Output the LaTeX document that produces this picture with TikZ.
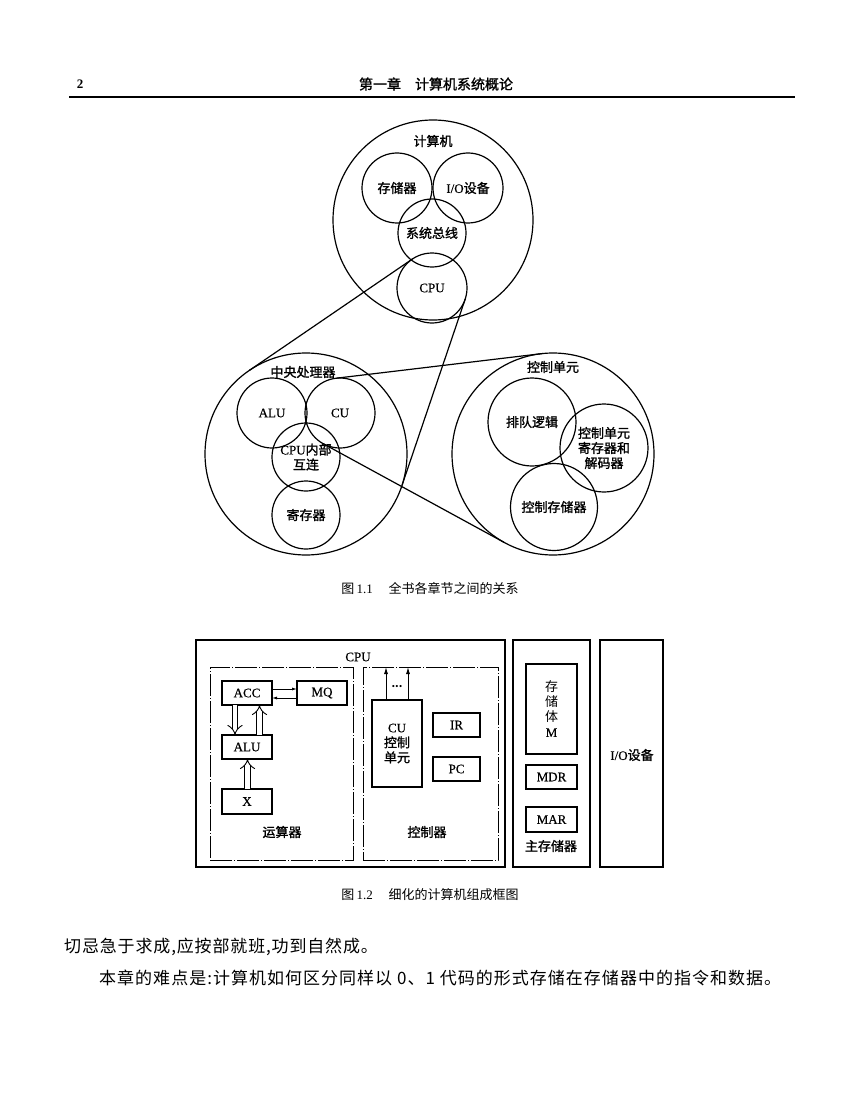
\documentclass[tikz,border=0pt]{standalone}
\usepackage{fontspec}
\setmainfont{Liberation Serif}
\newfontfamily\latb[FakeBold=0.4]{Liberation Serif}
\newfontfamily\cjk{Noto Sans CJK SC}
\newfontfamily\cjkb[FakeBold=1.4]{Noto Sans CJK SC}
\newfontfamily\cjkwide[LetterSpace=6]{Noto Sans CJK SC}
\newfontfamily\cjkmid[LetterSpace=5]{Noto Sans CJK SC}
\usetikzlibrary{arrows.meta,calc}
\newcommand\zh[1]{{\cjkb #1}}
\begin{document}
\begin{tikzpicture}[x=1pt,y=-1pt,
  circ/.style={draw,circle,inner sep=0pt,outer sep=0pt,line width=1.2pt,align=center,font=\fontsize{13}{15}\selectfont\latb},
  lab/.style={inner sep=0pt,font=\fontsize{13}{15}\selectfont\latb},
  box/.style={draw,line width=1.1pt,inner sep=0pt,outer sep=0pt,align=center,font=\fontsize{13}{15}\selectfont\latb},
  bigbox/.style={draw,line width=1.5pt,inner sep=0pt,outer sep=0pt},
  dbox/.style={draw,line width=0.9pt,inner sep=0pt,outer sep=0pt,dash pattern=on 22pt off 2pt on 1pt off 2pt},
  cone/.style={line width=1.2pt},
  thin arrow/.style={line width=0.8pt,-{Latex[length=5pt,width=3pt]}},
  hollow/.style={double distance=4.5pt,line width=0.9pt,-{Implies}},
  capt/.style={inner sep=0pt,font=\fontsize{13}{15}\selectfont},
  body/.style={inner sep=0pt,anchor=west,font=\fontsize{17}{20}\selectfont}]
\useasboundingbox[fill=white] (0,0) rectangle (845,1099);

% header
\node[inner sep=0pt,font=\fontsize{13}{15}\selectfont\bfseries] (pgno) at (80,84) {2};
\node[inner sep=0pt,font=\fontsize{14}{16}\selectfont] (hdr) at (436,84) {{\cjkb 第一章\hspace{1em}计算机系统概论}};
\coordinate (ruleL) at (69,97);
\coordinate (ruleR) at (795,97);
\draw[line width=1.3pt] (ruleL) -- (ruleR);

% Figure 1.1 top
\node[circ,minimum size=200pt] (comp) at (433,220) {};
\node[lab] (compl) at (433,141) {\zh{计算机}};
\node[circ,minimum size=70pt] (mem) at (397,188) {\zh{存储器}};
\node[circ,minimum size=70pt] (io) at (468,188) {I/O\zh{设备}};
\node[circ,minimum size=68pt] (bus) at (432,233) {\zh{系统总线}};
\node[circ,minimum size=70pt] (cpu) at (432,288) {CPU};

% CPU expanded
\node[circ,minimum size=202pt] (cpuc) at (306,454) {};
\node[lab] (cpucl) at (303,372) {\zh{中央处理器}};
\node[circ,minimum size=70pt] (alu) at (272,413) {ALU};
\node[circ,minimum size=70pt] (cu) at (340,413) {CU};
\node[circ,minimum size=68pt] (icn) at (306,457) {CPU\zh{内部}\\\zh{互连}};
\node[circ,minimum size=68pt] (reg) at (306,515) {\zh{寄存器}};

% CU expanded
\node[circ,minimum size=202pt] (cuc) at (553,454) {};
\node[lab] (cucl) at (553,367) {\zh{控制单元}};
\node[circ,minimum size=88pt] (seq) at (532,422) {\zh{排队逻辑}};
\node[circ,minimum size=88pt] (dec) at (604,448) {\zh{控制单元}\\\zh{寄存器和}\\\zh{解码器}};
\node[circ,minimum size=87pt] (cmem) at (554,507) {\zh{控制存储器}};

\draw[cone] (cpu.124.9) -- (cpuc.124.9);
\draw[cone] (cpu.-18.9) -- (cpuc.-18.9);
\draw[cone] (cu.96.8) -- (cuc.96.8);
\draw[cone] (cu.241.4) -- (cuc.241.4);

\node[capt] (cap1) at (430,588) {{\cjk 图}\,1.1\hspace{1.2em}{\cjk 全书各章节之间的关系}};

% Figure 1.2
\node[bigbox,minimum width=309pt,minimum height=227pt] (cpubox) at (350.5,753.5) {};
\node[lab] (cpul) at (358,657) {CPU};
\node[dbox,minimum width=143pt,minimum height=193pt] (arith) at (281.5,763.5) {};
\node[dbox,minimum width=135pt,minimum height=193pt] (ctl) at (430.5,763.5) {};
\node[box,minimum width=50pt,minimum height=24pt] (acc) at (247,693) {ACC};
\node[box,minimum width=50pt,minimum height=24pt] (mq) at (322,693) {MQ};
\node[box,minimum width=50pt,minimum height=24pt] (alub) at (247,747) {ALU};
\node[box,minimum width=50pt,minimum height=25pt] (xb) at (247,801.5) {X};
\node[lab] (arithl) at (282,832) {\zh{运算器}};
\node[box,minimum width=50pt,minimum height=87pt] (cub) at (397,743.5) {CU\\\zh{控制}\\\zh{单元}};
\node[box,minimum width=47pt,minimum height=24pt] (ir) at (456.5,725) {IR};
\node[box,minimum width=47pt,minimum height=24pt] (pc) at (456.5,769) {PC};
\node[lab] (ctll) at (427,832) {\zh{控制器}};
\node[inner sep=0pt,font=\fontsize{9}{10}\selectfont] (dots) at (397,687) {\textbullet\hspace{0.5pt}\textbullet\hspace{0.5pt}\textbullet};

\draw[thin arrow] ($(acc.east)+(0,-4)$) -- ($(mq.west)+(0,-4)$);
\draw[thin arrow] ($(mq.west)+(0,5)$) -- ($(acc.east)+(0,5)$);
\draw[hollow] ($(acc.south)+(-12,0)$) -- ($(alub.north)+(-12,0)$);
\draw[hollow] ($(alub.north)+(12.5,0)$) -- ($(acc.south)+(12.5,0)$);
\draw[hollow] ($(xb.north)+(0.5,0)$) -- ($(alub.south)+(0.5,0)$);

\coordinate (cuL) at ($(cub.north)+(-11,0)$);
\coordinate (cuR) at ($(cub.north)+(11,0)$);
\draw[line width=0.9pt,-{Latex[length=7pt,width=4pt]}] (cuL) -- (cuL |- ctl.north);
\draw[line width=0.9pt,-{Latex[length=7pt,width=4pt]}] (cuR) -- (cuR |- ctl.north);

\node[bigbox,minimum width=77pt,minimum height=227pt] (mm) at (551.5,753.5) {};
\node[box,minimum width=51pt,minimum height=90pt] (bank) at (551.5,709) {{\cjk 存}\\{\cjk 储}\\{\cjk 体}\\M};
\node[box,minimum width=51pt,minimum height=24pt] (mdr) at (551.5,777) {MDR};
\node[box,minimum width=51pt,minimum height=25pt] (mar) at (551.5,819.5) {MAR};
\node[lab] (mml) at (551,846) {\zh{主存储器}};
\node[bigbox,minimum width=63pt,minimum height=227pt] (iob) at (631.5,753.5) {};
\node[lab] (iol) at (632,755) {I/O\zh{设备}};

\node[capt] (cap2) at (430,895) {{\cjk 图}\,1.2\hspace{1.2em}{\cjk 细化的计算机组成框图}};

% body text
\node[body] (t1) at (64,947) {{\cjkmid 切忌急于求成,应按部就班,功到自然成。}};
\node[body] (t2) at (99,978) {{\cjkwide 本章的难点是:计算机如何区分同样以 0、1 代码的形式存储在存储器中的指令和数据。}};
\end{tikzpicture}
\end{document}
